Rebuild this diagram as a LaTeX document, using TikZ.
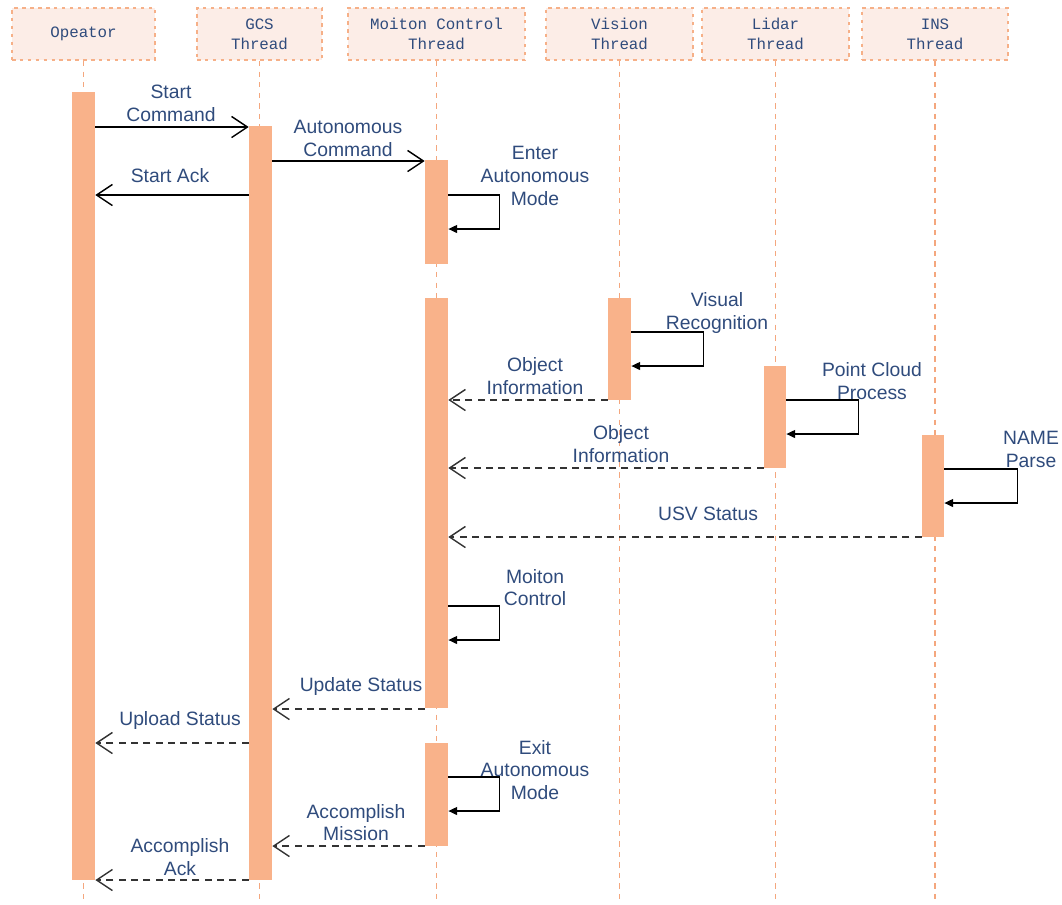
\documentclass[tikz,border=0pt]{standalone}
\usepackage{fontspec}
\setmainfont{Liberation Sans}
\setmonofont{Liberation Mono}
\usetikzlibrary{arrows.meta,fit}

\definecolor{barra}{HTML}{F9B28A}
\definecolor{fundo}{HTML}{FCEDE7}
\definecolor{borda}{HTML}{F6B088}
\definecolor{texto}{HTML}{2F4B7C}
\definecolor{linha}{HTML}{F4A77E}

\begin{document}
\begin{tikzpicture}[x=0.02cm,y=-0.02cm,
  cab/.style={draw=borda, fill=fundo, line width=1.3pt, dash pattern=on 2pt off 2.5pt,
    inner sep=0pt, minimum height=1.04cm, font=\ttfamily\fontsize{9}{11.3}\selectfont,
    text=texto, align=center},
  barra/.style={fill=barra, inner sep=0pt},
  vida/.style={draw=linha, line width=0.7pt, dash pattern=on 3pt off 3pt},
  msg/.style={draw=black, line width=0.8pt, -{Straight Barb[length=9pt,width=12pt]}},
  ret/.style={msg, dash pattern=on 4pt off 3pt, draw=black!80},
  auto/.style={draw=black, line width=0.8pt, -{Triangle[length=5pt,width=4.5pt]}},
  rot/.style={font=\fontsize{11}{13}\selectfont, text=texto, align=center, inner sep=0pt}]

    \useasboundingbox (0,0) rectangle (1062,904);

    % cabeçalhos
    \node[cab, minimum width=2.86cm] (op)  at (83.5,34)  {Opeator};
    \node[cab, minimum width=2.50cm] (gcs) at (259.5,34) {GCS\\Thread};
    \node[cab, minimum width=3.54cm] (mc)  at (436.5,34) {Moiton Control\\Thread};
    \node[cab, minimum width=2.94cm] (vis) at (619.5,34) {Vision\\Thread};
    \node[cab, minimum width=2.94cm] (lid) at (775.5,34) {Lidar\\Thread};
    \node[cab, minimum width=2.92cm] (ins) at (935,34)   {INS\\Thread};

    % linhas de vida
    \foreach \t in {op,gcs,mc,vis,lid,ins}
        \draw[vida] (\t.south) -- (\t.south |- 0,904);

    % barras de ativação
    \node[barra, fit={(72,92) (95,880)}]   (bop)  {};
    \node[barra, fit={(249,126) (272,880)}] (bgcs) {};
    \node[barra, fit={(425,160) (448,264)}] (bmca) {};
    \node[barra, fit={(425,298) (448,708)}] (bmcb) {};
    \node[barra, fit={(425,743) (448,846)}] (bmcc) {};
    \node[barra, fit={(608,298) (631,400)}] (bvis) {};
    \node[barra, fit={(764,366) (786,468)}] (blid) {};
    \node[barra, fit={(922,435) (944,537)}] (bins) {};

    % início
    \draw[msg] (bop.east |- 0,127) -- (bgcs.west |- 0,127);
    \node[rot] (lsc) at (171,103.5) {Start\\Command};
    \draw[msg] (bgcs.east |- 0,161) -- (bmca.west |- 0,161);
    \node[rot] (lac) at (348,138.5) {Autonomous\\Command};
    \draw[msg] (bgcs.west |- 0,195) -- (bop.east |- 0,195);
    \node[rot] (lsa) at (170,176) {Start Ack};
    \draw[auto] (bmca.east |- 0,195) -- ++(51,0) -- ++(0,34) -- (bmca.east |- 0,229);
    \node[rot] (lea) at (535,176) {Enter\\Autonomous\\Mode};

    % sensores
    \draw[auto] (bvis.east |- 0,332) -- ++(72,0) -- ++(0,34) -- (bvis.east |- 0,366);
    \node[rot] (lvr) at (717,313) {Visual\\Recognition};
    \draw[ret] (bvis.west |- 0,400) -- (bmcb.east |- 0,400);
    \node[rot] (loa) at (535,376.5) {Object\\Information};
    \draw[auto] (blid.east |- 0,400) -- ++(72,0) -- ++(0,34) -- (blid.east |- 0,434);
    \node[rot] (lpc) at (872,381.5) {Point Cloud\\Process};
    \draw[ret] (blid.west |- 0,468) -- (bmcb.east |- 0,468);
    \node[rot] (lob) at (621,444.5) {Object\\Information};
    \draw[auto] (bins.east |- 0,469) -- ++(73,0) -- ++(0,34) -- (bins.east |- 0,503);
    \node[rot] (lnp) at (1031,449.5) {NAME\\Parse};
    \draw[ret] (bins.west |- 0,537) -- (bmcb.east |- 0,537);
    \node[rot] (lus) at (708,514) {USV Status};

    % controle
    \draw[auto] (bmcb.east |- 0,606) -- ++(51,0) -- ++(0,34) -- (bmcb.east |- 0,640);
    \node[rot] (lmc) at (535,587.5) {Moiton\\Control};
    \draw[ret] (bmcb.west |- 0,709) -- (bgcs.east |- 0,709);
    \node[rot] (lup) at (361,686) {Update Status};
    \draw[ret] (bgcs.west |- 0,743) -- (bop.east |- 0,743);
    \node[rot] (lul) at (180,720) {Upload Status};

    % fim
    \draw[auto] (bmcc.east |- 0,777) -- ++(51,0) -- ++(0,34) -- (bmcc.east |- 0,811);
    \node[rot] (lex) at (535,770) {Exit\\Autonomous\\Mode};
    \draw[ret] (bmcc.west |- 0,846) -- (bgcs.east |- 0,846);
    \node[rot] (lam) at (356,822.5) {Accomplish\\Mission};
    \draw[ret] (bgcs.west |- 0,880) -- (bop.east |- 0,880);
    \node[rot] (laa) at (180,857) {Accomplish\\Ack};

\end{tikzpicture}
\end{document}
